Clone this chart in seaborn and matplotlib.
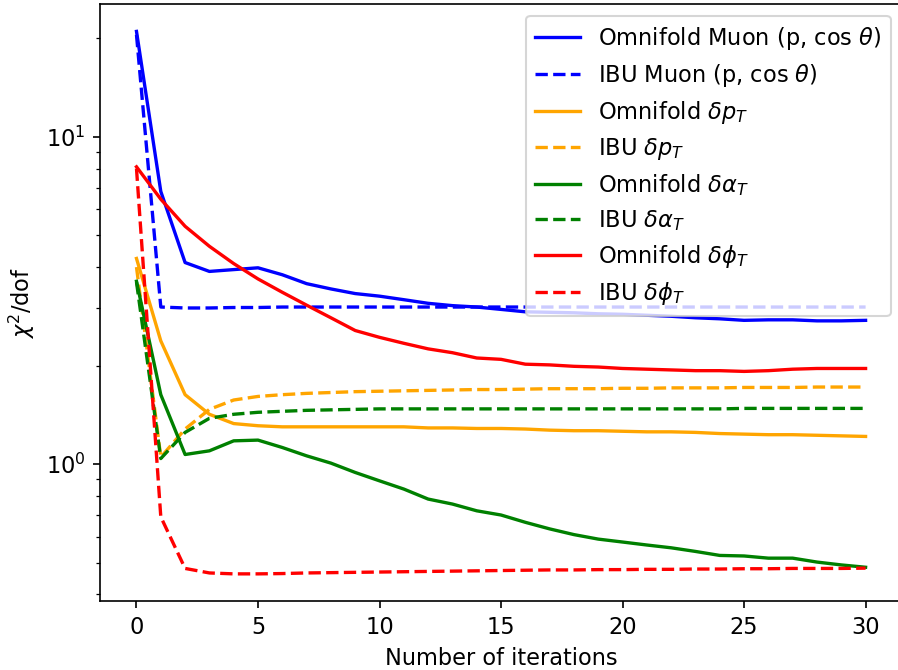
import matplotlib
matplotlib.use("Agg")
import matplotlib.pyplot as plt
import seaborn as sns
import numpy as np

iterations = list(range(31))

omnifold_muon = [21.0, 6.81, 4.13, 3.88, 3.93, 3.98, 3.79, 3.56, 3.43, 3.32, 3.26,
                 3.18, 3.10, 3.05, 3.02, 2.97, 2.92, 2.91, 2.90, 2.88, 2.87,
                 2.85, 2.83, 2.80, 2.78, 2.75, 2.76, 2.76, 2.74, 2.74, 2.75]
ibu_muon = [20.5, 3.02, 3.00, 3.00, 3.01, 3.01, 3.02, 3.02, 3.02, 3.02, 3.02,
            3.02, 3.02, 3.02, 3.02, 3.02, 3.02, 3.02, 3.02, 3.02, 3.02,
            3.02, 3.02, 3.02, 3.02, 3.02, 3.02, 3.02, 3.02, 3.02, 3.02]
omnifold_dpt = [4.25, 2.38, 1.63, 1.42, 1.33, 1.31, 1.30, 1.30, 1.30, 1.30, 1.30,
                1.30, 1.29, 1.29, 1.285, 1.285, 1.28, 1.27, 1.265, 1.265, 1.26,
                1.255, 1.255, 1.25, 1.24, 1.235, 1.23, 1.23, 1.225, 1.22, 1.215]
ibu_dpt = [4.0, 1.05, 1.28, 1.47, 1.57, 1.61, 1.63, 1.645, 1.655, 1.665, 1.67,
           1.675, 1.68, 1.685, 1.69, 1.69, 1.695, 1.70, 1.70, 1.70, 1.705,
           1.705, 1.71, 1.71, 1.71, 1.715, 1.715, 1.715, 1.72, 1.72, 1.72]
omnifold_dat = [3.62, 1.63, 1.07, 1.098, 1.178, 1.184, 1.124, 1.06, 1.007, 0.943, 0.889,
                0.839, 0.782, 0.755, 0.72, 0.699, 0.664, 0.634, 0.609, 0.590, 0.578,
                0.566, 0.555, 0.541, 0.526, 0.524, 0.516, 0.516, 0.502, 0.492, 0.484]
ibu_dat = [3.6, 1.04, 1.25, 1.38, 1.42, 1.44, 1.45, 1.46, 1.465, 1.47, 1.475,
           1.475, 1.475, 1.475, 1.475, 1.475, 1.475, 1.475, 1.475, 1.475, 1.475,
           1.475, 1.475, 1.475, 1.475, 1.48, 1.48, 1.48, 1.48, 1.48, 1.48]
omnifold_dphit = [8.1, 6.45, 5.33, 4.63, 4.10, 3.68, 3.35, 3.06, 2.80, 2.56, 2.44,
                  2.34, 2.25, 2.19, 2.11, 2.09, 2.02, 2.01, 1.99, 1.98, 1.96,
                  1.95, 1.94, 1.93, 1.93, 1.92, 1.93, 1.95, 1.96, 1.96, 1.96]
ibu_dphit = [8.0, 0.69, 0.48, 0.465, 0.462, 0.462, 0.463, 0.465, 0.466, 0.467, 0.468,
             0.469, 0.470, 0.471, 0.472, 0.473, 0.474, 0.475, 0.475, 0.476, 0.476,
             0.477, 0.477, 0.478, 0.478, 0.479, 0.479, 0.480, 0.480, 0.480, 0.481]

series = [
    ("Omnifold Muon (p, cos $\\theta$)", omnifold_muon, "blue", "-"),
    ("IBU Muon (p, cos $\\theta$)", ibu_muon, "blue", "--"),
    ("Omnifold $\\delta p_T$", omnifold_dpt, "orange", "-"),
    ("IBU $\\delta p_T$", ibu_dpt, "orange", "--"),
    ("Omnifold $\\delta \\alpha_T$", omnifold_dat, "green", "-"),
    ("IBU $\\delta \\alpha_T$", ibu_dat, "green", "--"),
    ("Omnifold $\\delta \\phi_T$", omnifold_dphit, "red", "-"),
    ("IBU $\\delta \\phi_T$", ibu_dphit, "red", "--"),
]

plt.rcParams["font.size"] = 10.8

fig, ax = plt.subplots(figsize=(898 / 150, 670 / 150), dpi=150)
for label, vals, color, ls in series:
    sns.lineplot(x=iterations, y=vals, color=color, linestyle=ls, label=label,
                 ax=ax, linewidth=1.6)

ax.set_yscale("log")
ax.set_xticks([0, 5, 10, 15, 20, 25, 30])
ax.set_xlabel("Number of iterations")
ax.set_ylabel("$\\chi^2$/dof")
ax.legend(loc="upper right", labelspacing=0.45)
fig.subplots_adjust(left=0.1114, right=1.0045, bottom=0.103, top=0.9936)
fig.savefig("out.png", dpi=150)
